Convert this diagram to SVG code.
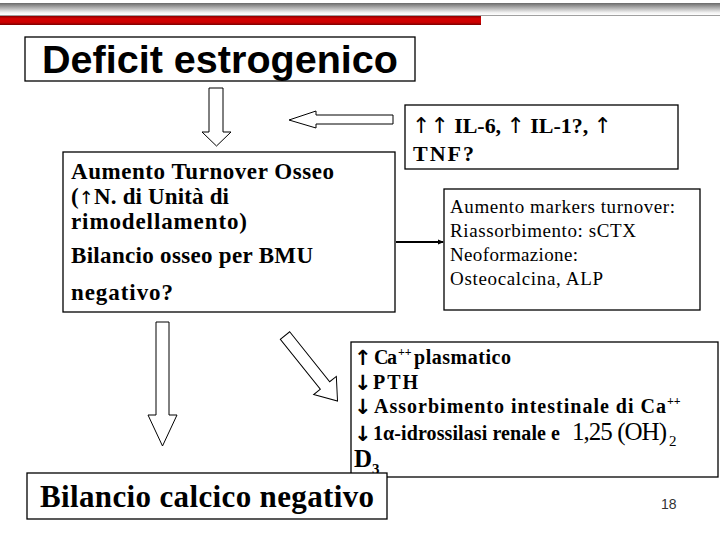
<svg xmlns="http://www.w3.org/2000/svg" width="720" height="540" viewBox="0 0 720 540">
<defs>
<linearGradient id="gbar" x1="0" y1="0" x2="0" y2="1">
<stop offset="0" stop-color="#6a6a6a"/>
<stop offset="0.35" stop-color="#a8a8a8"/>
<stop offset="0.8" stop-color="#f2f2f2"/>
<stop offset="1" stop-color="#ffffff"/>
</linearGradient>
<linearGradient id="rbar" x1="0" y1="0" x2="0" y2="1">
<stop offset="0" stop-color="#8a0000"/>
<stop offset="0.3" stop-color="#d40000"/>
<stop offset="0.7" stop-color="#cc0000"/>
<stop offset="1" stop-color="#7a0000"/>
</linearGradient>
<marker id="ah" markerWidth="6" markerHeight="6" refX="5" refY="3" orient="auto" markerUnits="userSpaceOnUse">
<path d="M0,0.5 L6,3 L0,5.5 Z" fill="#000"/>
</marker>
</defs>
<style>
.box{fill:#fff;stroke:#000;stroke-width:1.3}
.blk{fill:#fff;stroke:#000;stroke-width:1}
.sb{font-family:"Liberation Serif","Times New Roman",serif;font-weight:bold;fill:#000}
.sr{font-family:"Liberation Serif","Times New Roman",serif;fill:#000}
.ab{font-family:"Liberation Sans",Arial,sans-serif;font-weight:bold;fill:#000}
.arr{font-family:"DejaVu Sans",sans-serif;font-weight:bold}
.arl{font-family:"DejaVu Sans",sans-serif;font-weight:normal}
.conn{stroke:#000;stroke-width:2;fill:none}
</style>
<rect width="720" height="540" fill="#fff"/>
<g id="header">
<rect x="0" y="3" width="720" height="12" fill="url(#gbar)"/>
<line x1="0" y1="15.5" x2="720" y2="15.5" stroke="#a0a0a0" stroke-width="1"/>
<rect x="0" y="16" width="481" height="9" fill="url(#rbar)"/>
</g>
<g id="connectors">
<polygon class="blk" points="209,88 223,88 223,132 231,132 216.5,146 202,132 209,132"/>
<polygon class="blk" points="393,115 393,124 316,124 316,128 289,120 316,111 316,115"/>
<polygon class="blk" points="156,322 169,322 169,415 177,415 162.5,446 148,415 156,415"/>
<polygon class="blk" transform="translate(285,335.5) rotate(51.3)" points="0,-6 64,-6 64,-14.5 84,0 64,14.5 64,6 0,6"/>
<line class="conn" x1="396" y1="242" x2="443" y2="242" marker-end="url(#ah)"/>
</g>
<g id="deficit">
<rect class="box" x="25" y="37" width="390" height="44"/>
<text class="ab" x="42" y="73" font-size="39" textLength="356" lengthAdjust="spacingAndGlyphs">Deficit estrogenico</text>
</g>
<g id="cytokines">
<rect class="box" x="405" y="105" width="273" height="64"/>
<text class="sb" x="412" y="133" font-size="22" textLength="200" lengthAdjust="spacing"><tspan class="arl">↑↑</tspan> IL-6, <tspan class="arl">↑</tspan> IL-1?, <tspan class="arl">↑</tspan></text>
<text class="sb" x="413" y="161" font-size="22" textLength="61" lengthAdjust="spacing">TNF?</text>
</g>
<g id="turnover">
<rect class="box" x="63" y="152" width="332" height="160"/>
<text class="sb" x="71" y="179" font-size="23" textLength="263" lengthAdjust="spacing">Aumento Turnover Osseo</text>
<text class="sb" x="71" y="204" font-size="23" textLength="158" lengthAdjust="spacing">(<tspan class="arl" font-size="18">↑</tspan>N. di Unità di</text>
<text class="sb" x="71" y="229" font-size="23" textLength="176" lengthAdjust="spacing">rimodellamento)</text>
<text class="sb" x="71" y="263" font-size="23" textLength="242" lengthAdjust="spacing">Bilancio osseo per BMU</text>
<text class="sb" x="71" y="300" font-size="23" textLength="102" lengthAdjust="spacing">negativo?</text>
</g>
<g id="markers">
<rect class="box" x="444" y="189" width="256" height="121"/>
<text class="sr" x="450" y="213" font-size="19" textLength="225" lengthAdjust="spacing">Aumento markers turnover:</text>
<text class="sr" x="450" y="237" font-size="19" textLength="186" lengthAdjust="spacing">Riassorbimento: sCTX</text>
<text class="sr" x="450" y="261" font-size="19" textLength="128" lengthAdjust="spacing">Neoformazione:</text>
<text class="sr" x="450" y="285" font-size="19" textLength="153" lengthAdjust="spacing">Osteocalcina, ALP</text>
</g>
<g id="calcium">
<rect class="box" x="351" y="342" width="367" height="135"/>
<text class="sb arr" x="354" y="365" font-size="21">↑</text>
<text class="sb" x="374" y="364" font-size="20" textLength="23" lengthAdjust="spacing">Ca</text>
<text class="sb" x="398" y="356" font-size="12">++</text>
<text class="sb" x="414" y="364" font-size="20" textLength="97" lengthAdjust="spacing">plasmatico</text>
<text class="sb arr" x="354" y="390" font-size="21">↓</text>
<text class="sb" x="373" y="389" font-size="20" textLength="45" lengthAdjust="spacing">PTH</text>
<text class="sb arr" x="354" y="414" font-size="21">↓</text>
<text class="sb" x="374" y="413" font-size="20" textLength="292" lengthAdjust="spacing">Assorbimento intestinale di Ca</text>
<text class="sb" x="667" y="405" font-size="12">++</text>
<text class="sb arr" x="354" y="441" font-size="21">↓</text>
<text class="sb" x="373" y="440" font-size="20" textLength="187" lengthAdjust="spacing">1α-idrossilasi renale e</text>
<text class="sr" x="572" y="440" font-size="25" textLength="95" lengthAdjust="spacing">1,25 (OH)</text>
<text class="sr" x="669" y="446" font-size="15">2</text>
<text class="sb" x="354" y="467" font-size="25">D</text>
<text class="sb" x="372" y="474" font-size="15">3</text>
</g>
<g id="calcic-balance">
<rect class="box" x="27" y="473" width="360" height="46"/>
<text class="sb" x="40" y="507" font-size="31" textLength="334" lengthAdjust="spacing">Bilancio calcico negativo</text>
</g>
<text x="661" y="509" font-family="Liberation Sans,Arial,sans-serif" font-size="14" fill="#333">18</text>
</svg>
